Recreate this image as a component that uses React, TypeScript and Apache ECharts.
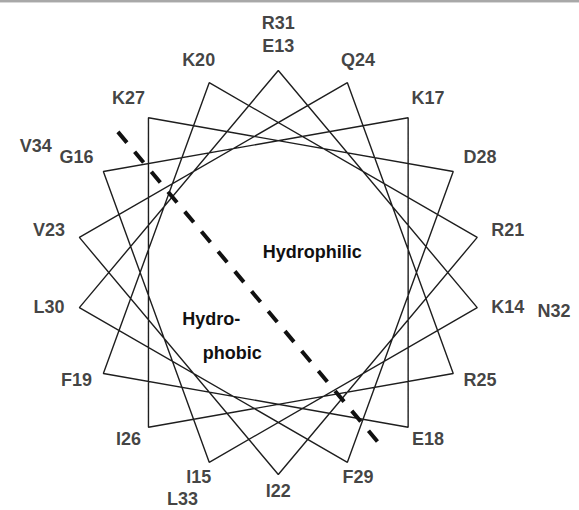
import React, { useEffect, useRef } from "react";
import * as echarts from "echarts";

// Helical wheel: residues in sequence order
const residues: string[] = [
  "E13", "K14", "I15", "G16", "K17", "E18", "F19", "K20", "R21", "I22", "V23",
  "Q24", "R25", "I26", "K27", "D28", "F29", "L30", "R31", "N32", "L33", "V34",
];
const degreesPerResidue = 100; // alpha helix rotation per residue
const firstAngle = 90; // first residue at the top
// dividing line between the two faces (in wheel-radius units)
const boundaryEnds: number[][] = [
  [-0.794, 0.696],
  [0.518, -0.869],
];
const regionLabels: string[] = ["Hydrophilic", "Hydro-", "phobic"];

const W = 579;
const H = 510;
const CX = 278.3;
const CY = 272.5;
const R = 202;
const LABEL_SHIFT = 4 / R; // labels sit slightly above the wheel's centre line
const FONT = '"Liberation Sans", Arial, Helvetica, sans-serif';

function gcd(a: number, b: number): number {
  return b === 0 ? a : gcd(b, a % b);
}
const positionsPerCycle = 360 / gcd(degreesPerResidue, 360);

function angleOf(i: number) {
  return ((firstAngle - degreesPerResidue * i) * Math.PI) / 180;
}

export default function App() {
  const ref = useRef<HTMLDivElement>(null);

  useEffect(() => {
    document.body.style.margin = "0";
    if (!ref.current) return;
    const chart = echarts.init(ref.current, undefined, { renderer: "svg" });

    const vertices = residues.map((_, i) => [Math.cos(angleOf(i)), Math.sin(angleOf(i))]);
    const labelData = residues.map((name, i) => {
      const turn = Math.floor(i / positionsPerCycle);
      const fx = turn === 0 ? 1.153 : 1.386;
      const fy = turn === 0 ? 1.1 : 1.215;
      const a = angleOf(i);
      return { name, value: [Math.cos(a) * fx, Math.sin(a) * fy + LABEL_SHIFT] };
    });

    const regionPos = [
      [34, -20.5],
      [-67, 46.5],
      [-46, 80.5],
    ];

    chart.setOption({
      animation: false,
      backgroundColor: "#ffffff",
      grid: { left: 0, right: 0, top: 0, bottom: 0 },
      xAxis: { type: "value", min: -CX / R, max: (W - CX) / R, show: false },
      yAxis: { type: "value", min: -(H - CY) / R, max: CY / R, show: false },
      series: [
        {
          type: "line",
          data: vertices,
          showSymbol: false,
          symbol: "none",
          silent: true,
          lineStyle: { color: "#1e1e1e", width: 1.4 },
          z: 2,
        },
        {
          type: "line",
          data: boundaryEnds,
          symbol: "none",
          silent: true,
          lineStyle: { color: "#111111", width: 4, type: [14, 12], cap: "butt" },
          z: 3,
        },
        {
          type: "scatter",
          data: labelData,
          symbolSize: 1,
          itemStyle: { color: "rgba(0,0,0,0)" },
          silent: true,
          label: {
            show: true,
            position: "inside",
            formatter: "{b}",
            color: "#111111",
            fontSize: 18,
            fontWeight: "bold",
            fontFamily: FONT,
            align: "center",
            verticalAlign: "middle",
          },
          z: 4,
        },
      ],
      graphic: [
        { type: "rect", shape: { x: 0, y: 0, width: W, height: 2 }, style: { fill: "#a8a8a8" } },
        { type: "rect", shape: { x: 0, y: 2, width: W, height: 1 }, style: { fill: "#d8d8d8" } },
        ...regionLabels.map((t, i) => ({
          type: "text",
          x: CX + regionPos[i][0],
          y: CY + regionPos[i][1],
          style: {
            text: t,
            fill: "#111111",
            font: `bold 18px ${FONT}`,
            textAlign: "center",
            textVerticalAlign: "middle",
          },
        })),
      ],
    });

    return () => chart.dispose();
  }, []);

  return <div ref={ref} style={{ width: W, height: H }} />;
}
